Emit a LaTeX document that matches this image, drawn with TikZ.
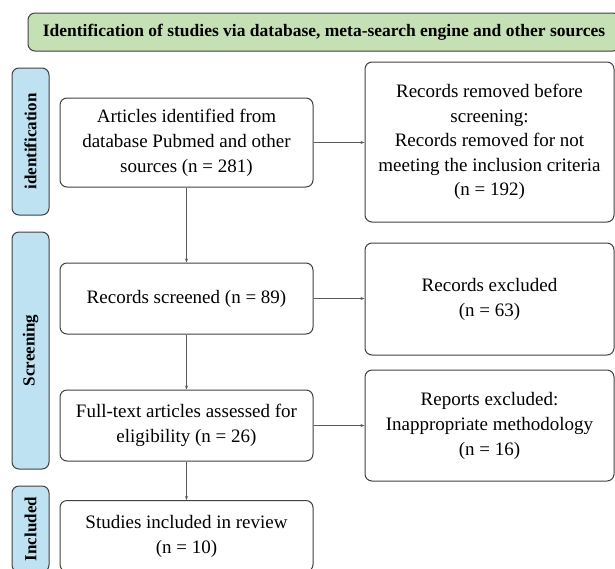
\documentclass[tikz,border=0pt]{standalone}
\usepackage{fontspec}
\setmainfont{Liberation Serif}
\usetikzlibrary{arrows.meta}
\definecolor{titlegreen}{HTML}{C6E0B5}
\definecolor{labelblue}{HTML}{BEE2F1}
\definecolor{edgecol}{HTML}{404040}
\definecolor{arrowcol}{HTML}{5A5A5A}
\begin{document}
\begin{tikzpicture}[x=1pt,y=-1pt,
  box/.style={draw=edgecol, line width=1pt, rounded corners=7pt, fill=white,
    align=center, inner sep=0pt, font=\fontsize{19}{25}\selectfont},
  sidelabel/.style={draw=edgecol, line width=1pt, rounded corners=7pt, fill=labelblue,
    rotate=90, inner sep=0pt, minimum height=37pt, font=\bfseries\fontsize{17}{20}\selectfont},
  titlebox/.style={draw=edgecol, line width=1pt, rounded corners=7pt, fill=titlegreen,
    inner sep=0pt, font=\bfseries\fontsize{17.5}{20}\selectfont},
  conn/.style={draw=arrowcol, line width=0.8pt, -{Stealth[length=4pt,width=3pt]}}]
\useasboundingbox (0,0) rectangle (615,568);
\clip (0,0) rectangle (615,568);

\node[titlebox, minimum width=592pt, minimum height=38pt] (title) at (324,32)
  {Identification of studies via database, meta-search engine and other sources};

\node[sidelabel, minimum width=147pt] (lid) at (30.5,141.5) {identification};
\node[sidelabel, minimum width=237pt] (lscr) at (30.5,350.5) {Screening};
\node[sidelabel, minimum width=86pt] (linc) at (30.5,529) {Included};

\node[box, minimum width=253pt, minimum height=89pt] (articles) at (186.5,142.5)
  {Articles identified from\\database Pubmed and other\\sources (n = 281)};
\node[box, minimum width=249pt, minimum height=160pt, font=\fontsize{19}{24.5}\selectfont] (removed) at (489.5,142)
  {Records removed before\\screening:\\Records removed for not\\meeting the inclusion criteria\\(n = 192)};

\node[box, minimum width=253pt, minimum height=71pt] (screened) at (186.5,298.5)
  {Records screened (n = 89)};
\node[box, minimum width=249pt, minimum height=112pt] (excluded) at (489.5,299)
  {Records excluded\\(n = 63)};

\node[box, minimum width=253pt, minimum height=71pt] (fulltext) at (186.5,425.5)
  {Full-text articles assessed for\\eligibility (n = 26)};
\node[box, minimum width=249pt, minimum height=111pt] (reports) at (489.5,425.5)
  {Reports excluded:\\Inappropriate methodology\\(n = 16)};

\node[box, minimum width=253pt, minimum height=71pt] (included) at (186.5,536)
  {Studies included in review\\(n = 10)};

\draw[conn] (articles.south) -- (screened.north);
\draw[conn] (screened.south) -- (fulltext.north);
\draw[conn] (fulltext.south) -- (included.north);
\draw[conn] (articles.east) -- (articles.east -| removed.west);
\draw[conn] (screened.east) -- (screened.east -| excluded.west);
\draw[conn] (fulltext.east) -- (fulltext.east -| reports.west);
\end{tikzpicture}
\end{document}
